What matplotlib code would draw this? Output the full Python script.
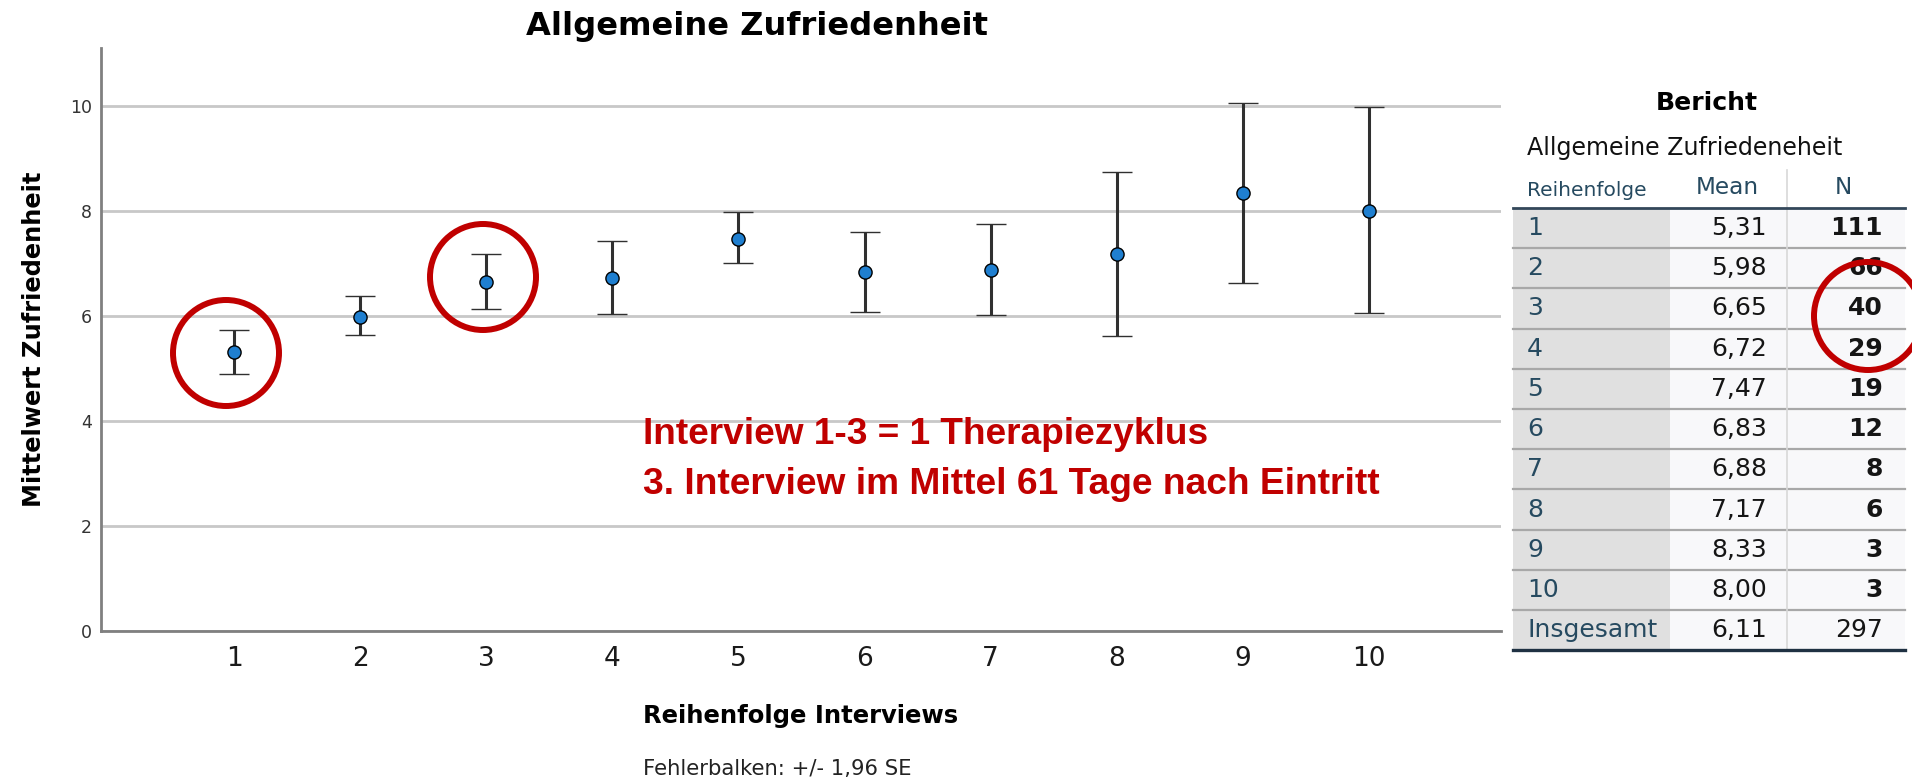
import numpy as np
import matplotlib
matplotlib.use('Agg')
import matplotlib.pyplot as plt
from matplotlib.patches import Rectangle, Ellipse
from matplotlib.lines import Line2D

# Mittelwerte und 95%-Fehlerbalken (+/- 1,96 SE) je Interview
interviews = [1, 2, 3, 4, 5, 6, 7, 8, 9, 10]
means = [5.31, 5.98, 6.65, 6.72, 7.47, 6.83, 6.88, 7.17, 8.33, 8.00]
ci_low = [4.89, 5.63, 6.14, 6.04, 7.00, 6.08, 6.02, 5.62, 6.62, 6.05]
ci_high = [5.73, 6.37, 7.17, 7.42, 7.97, 7.60, 7.75, 8.73, 10.06, 9.97]
n_cases = [111, 66, 40, 29, 19, 12, 8, 6, 3, 3]
total_mean = 6.11
total_n = 297
y_ticks = [0, 2, 4, 6, 8, 10]

W, H = 1912, 780
fig = plt.figure(figsize=(W / 100, H / 100), dpi=100)
renderer = fig.canvas.get_renderer()


def fx(x):
    return x / W


def fy(y):
    return 1 - y / H


def fit(t, size_px, vertical=False):
    # Schriftgroesse so anpassen, dass die Textlaenge passt
    bb = t.get_window_extent(renderer)
    cur = bb.height if vertical else bb.width
    t.set_fontsize(t.get_fontsize() * size_px / cur)
    return t


# --- Diagramm ---
ax = fig.add_axes([fx(100.7), fy(631), fx(1501) - fx(100.7), fy(48) - fy(631)])
m = np.array(means)
err = [m - np.array(ci_low), np.array(ci_high) - m]
ax.errorbar(interviews, means, yerr=err, fmt='o', color='#1f7fd0', mec='black', mew=1.0,
            ms=9.5, ecolor='#303030', elinewidth=2.2, capsize=11, capthick=3, zorder=3)
ax.set_xlim(-0.06, 11.05)
ax.set_ylim(0, 11.1)
ax.set_xticks(interviews)
ax.set_yticks(y_ticks)
ax.yaxis.grid(True, color='#c8c8c8', lw=2)
ax.set_axisbelow(True)
for s in ['top', 'right']:
    ax.spines[s].set_visible(False)
for s in ['left', 'bottom']:
    ax.spines[s].set_color('#808080')
    ax.spines[s].set_linewidth(2)
ax.tick_params(axis='y', length=0, pad=6.5, labelsize=12.5, labelcolor='#333333')
ax.tick_params(axis='x', length=0, pad=11, labelsize=19, labelcolor='#1a1a1a')

# Titel und Achsenbeschriftungen
t = fig.text(fx(757), fy(27), 'Allgemeine Zufriedenheit', ha='center', va='center',
             fontsize=20, fontweight='bold')
fit(t, 463)
t = fig.text(fx(34), fy(339), 'Mittelwert Zufriedenheit', rotation=90, ha='center', va='center',
             fontsize=15, fontweight='bold')
fit(t, 338, vertical=True)
t = fig.text(fx(801), fy(716), 'Reihenfolge Interviews', ha='center', va='center',
             fontsize=15, fontweight='bold')
fit(t, 317)
t = fig.text(fx(643), fy(769), 'Fehlerbalken: +/- 1,96 SE', ha='left', va='center',
             fontsize=13, color='#222222')
fit(t, 269)

# Rote Anmerkungen
red = '#c00000'
narrow = ['Liberation Sans Narrow', 'Liberation Sans']
t = fig.text(fx(643), fy(434), 'Interview 1-3 = 1 Therapiezyklus', ha='left', va='center',
             fontsize=22, fontweight='bold', color=red, family=narrow)
fit(t, 564)
t = fig.text(fx(643), fy(484), '3. Interview im Mittel 61 Tage nach Eintritt', ha='left', va='center',
             fontsize=22, fontweight='bold', color=red, family=narrow)
fit(t, 735)

# --- Tabelle "Bericht" ---
tab_l, tab_r = 1513, 1905
col1_r, col2_r = 1670, 1787
head_y = 208
row_h = 40.2
labels = [str(i) for i in interviews] + ['Insgesamt']
mean_txt = [f'{v:.2f}'.replace('.', ',') for v in means + [total_mean]]
n_txt = [str(v) for v in n_cases + [total_n]]
slate = '#264a60'

t = fig.text(fx(1707), fy(103), 'Bericht', ha='center', va='center', fontsize=17, fontweight='bold')
fit(t, 102)
t = fig.text(fx(1527), fy(148), 'Allgemeine Zufriedeneheit', ha='left', va='center', fontsize=16,
             color='#111111')
fit(t, 317)
t = fig.text(fx(1527), fy(191), 'Reihenfolge', ha='left', va='center', fontsize=14, color=slate)
fit(t, 120)
t = fig.text(fx(1727), fy(187), 'Mean', ha='center', va='center', fontsize=17, color=slate)
fit(t, 63)
fig.text(fx(1843), fy(187), 'N', ha='center', va='center', fontsize=t.get_fontsize(), color=slate)

bottom = head_y + row_h * len(labels)
fig.patches.append(Rectangle((fx(tab_l), fy(bottom)), fx(col1_r) - fx(tab_l), fy(head_y) - fy(bottom),
                             transform=fig.transFigure, facecolor='#e0e0e0', edgecolor='none'))
fig.patches.append(Rectangle((fx(col1_r), fy(bottom)), fx(tab_r) - fx(col1_r), fy(head_y) - fy(bottom),
                             transform=fig.transFigure, facecolor='#f8f8fa', edgecolor='none'))
for i in range(1, len(labels)):
    yy = fy(head_y + row_h * i)
    fig.lines.append(Line2D([fx(tab_l), fx(tab_r)], [yy, yy], transform=fig.transFigure,
                            color='#a8a8a8', lw=1.6))
fig.lines.append(Line2D([fx(col2_r), fx(col2_r)], [fy(170), fy(bottom)], transform=fig.transFigure,
                        color='#d8d8d8', lw=1.2))
fig.lines.append(Line2D([fx(tab_l), fx(tab_r)], [fy(head_y), fy(head_y)], transform=fig.transFigure,
                        color='#33475a', lw=2))
fig.lines.append(Line2D([fx(tab_l), fx(tab_r)], [fy(bottom), fy(bottom)], transform=fig.transFigure,
                        color='#1f3142', lw=2.4))

fs = 18
for i, lab in enumerate(labels):
    yc = fy(head_y + row_h * i + row_h / 2)
    fig.text(fx(1527), yc, lab, ha='left', va='center', fontsize=fs, color=slate)
    fig.text(fx(1767), yc, mean_txt[i], ha='right', va='center', fontsize=fs, color='#151515')
    fig.text(fx(1883), yc, n_txt[i], ha='right', va='center', fontsize=fs, color='#151515',
             fontweight='bold' if i < len(n_cases) else 'normal')

# Rote Kreise
for cx, cy, r in [(226, 353, 53), (483, 277, 53), (1868, 316, 54)]:
    fig.patches.append(Ellipse((fx(cx), fy(cy)), 2 * r / W, 2 * r / H, transform=fig.transFigure,
                               facecolor='none', edgecolor=red, lw=4.3, zorder=10))

fig.savefig('out.png', dpi=100)
